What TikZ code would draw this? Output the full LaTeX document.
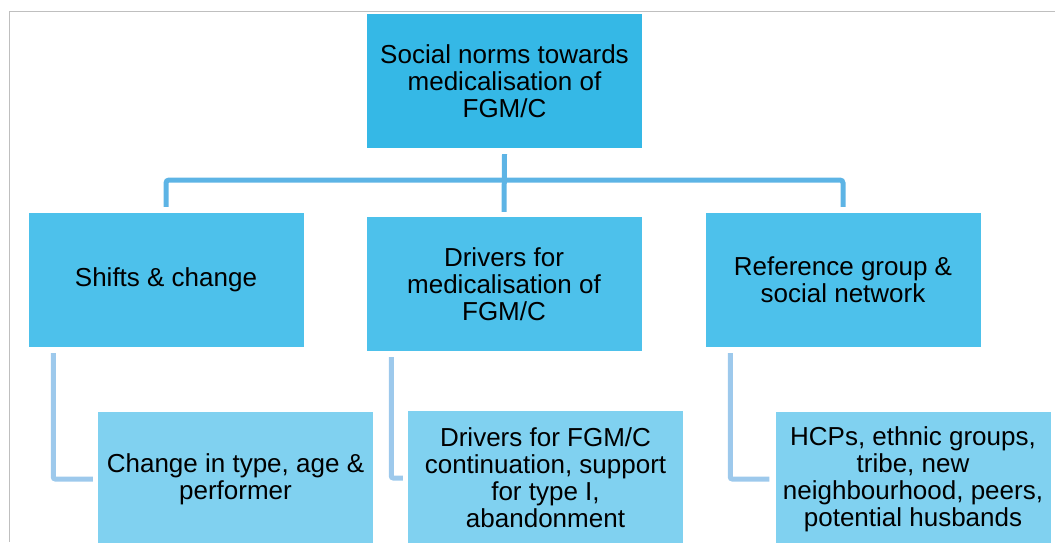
\documentclass[tikz,border=0pt]{standalone}
\usepackage{fontspec}
\setmainfont{Liberation Sans}
\usepackage{tikz}

\definecolor{topblue}{HTML}{35B8E6}
\definecolor{midblue}{HTML}{4DC1EB}
\definecolor{lowblue}{HTML}{80D1F0}
\definecolor{linkblue}{HTML}{5DB4E5}
\definecolor{branchblue}{HTML}{9DC9EC}
\definecolor{framegray}{HTML}{BFBFBF}

\tikzset{
    box/.style={minimum width=275pt, minimum height=134pt, inner sep=0pt,
        align=center, font=\fontsize{26}{27}\selectfont},
    link/.style={linkblue, line width=5pt, rounded corners=3pt},
    branch/.style={branchblue, line width=5pt, rounded corners=2pt}
}

\begin{document}
\begin{tikzpicture}[x=1pt, y=-1pt]
    \useasboundingbox (0,0) rectangle (1055,542);

    % Frame
    \draw[framegray, line width=1.5pt] (1055,11.5) -- (9.5,11.5) -- (9.5,542);

    % Top box
    \node[box, fill=topblue] (norms) at (504.5,81) {Social norms towards\\medicalisation of\\FGM/C};

    % Second row
    \node[box, fill=midblue] (shift) at (166,280) {Shifts \& change};
    \node[box, fill=midblue] (drv) at (504,284) {Drivers for\\medicalisation of\\FGM/C};
    \node[box, fill=midblue] (refg) at (843,280) {Reference group \&\\social network};

    % Third row
    \node[box, fill=lowblue] (chg) at (235.5,479) {Change in type, age \&\\performer};
    \node[box, fill=lowblue] (cont) at (545.5,478) {Drivers for FGM/C\\continuation, support\\for type I,\\abandonment};
    \node[box, fill=lowblue] (hcp) at (913,479) {HCPs, ethnic groups,\\tribe, new\\neighbourhood, peers,\\potential husbands};

    % Connectors
    \coordinate (bar) at (504,180);
    \draw[linkblue, line width=5pt] ([yshift=-6pt]norms.south) -- ([yshift=5pt]drv.north);
    \draw[link] ([yshift=6pt]shift.north) |- (bar) -| ([yshift=6pt]refg.north);

    \draw[branch] ([xshift=25pt, yshift=-6pt]shift.south west) |- ([xshift=-5pt]chg.west);
    \draw[branch] ([xshift=25pt, yshift=-6pt]drv.south west) |- ([xshift=-5pt]cont.west);
    \draw[branch] ([xshift=25pt, yshift=-6pt]refg.south west) |- ([xshift=-6pt]hcp.west);
\end{tikzpicture}
\end{document}
